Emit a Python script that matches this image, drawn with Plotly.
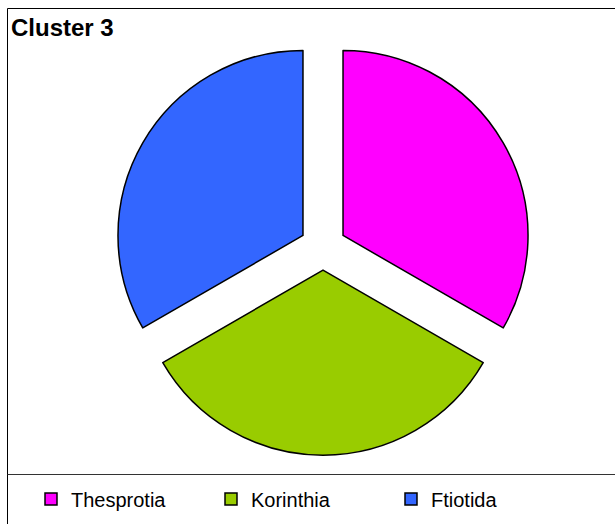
import plotly.graph_objects as go

categories = ["Thesprotia", "Korinthia", "Ftiotida"]
values = [1, 1, 1]
colors = ["#FF00FF", "#99CC00", "#3366FF"]

W, H = 615, 524
cx, cy, r, pull = 323, 247, 185, 0.125
half = r * (1 + pull)

fig = go.Figure(go.Pie(
    labels=categories, values=values, sort=False, direction="clockwise",
    rotation=0, pull=[pull] * 3, textinfo="none", hoverinfo="label+value",
    marker=dict(colors=colors, line=dict(color="black", width=1.5)),
    domain=dict(x=[(cx - half) / W, (cx + half) / W],
                y=[1 - (cy + half) / H, 1 - (cy - half) / H]),
))

fig.update_layout(
    width=W, height=H, margin=dict(l=0, r=0, t=0, b=0, autoexpand=False),
    paper_bgcolor="white", plot_bgcolor="white",
    font=dict(family="Liberation Sans, Arial, sans-serif", color="black"),
    title=dict(text="<b>Cluster 3</b>", font=dict(size=24, color="black"),
               x=11 / W, xanchor="left", y=1 - 19 / H, yanchor="top",
               xref="paper", yref="paper"),
    showlegend=True,
    legend=dict(orientation="h", x=31 / W, xanchor="left", y=1 - 499 / H,
                yanchor="middle", font=dict(size=20), entrywidth=135,
                entrywidthmode="pixels", bgcolor="rgba(0,0,0,0)"),
    shapes=[
        dict(type="line", xref="paper", yref="paper", x0=7.5 / W, x1=1.01,
             y0=1 - 8.5 / H, y1=1 - 8.5 / H, line=dict(color="black", width=1)),
        dict(type="line", xref="paper", yref="paper", x0=7.5 / W, x1=7.5 / W,
             y0=1 - 8.5 / H, y1=-0.01, line=dict(color="black", width=1)),
        dict(type="line", xref="paper", yref="paper", x0=7.5 / W, x1=1.01,
             y0=1 - 474.5 / H, y1=1 - 474.5 / H, line=dict(color="#333333", width=1)),
    ],
)

fig.write_html("out.html", config={"displayModeBar": False},
               post_script="document.body.style.margin='0';")
